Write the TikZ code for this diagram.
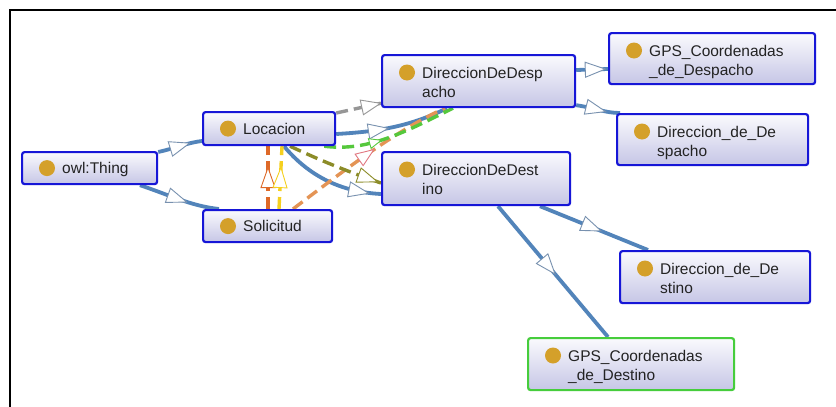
\documentclass[tikz,border=0pt]{standalone}
\usepackage{fontspec}
\setmainfont{Liberation Sans}
\usetikzlibrary{calc,decorations.markings}

\definecolor{boxblue}{RGB}{22,22,215}
\definecolor{boxgreen}{RGB}{70,205,60}
\definecolor{boxtop}{RGB}{250,250,253}
\definecolor{boxbot}{RGB}{198,198,230}
\definecolor{dotcol}{RGB}{212,160,42}
\definecolor{txtcol}{RGB}{35,35,35}
\definecolor{isablue}{RGB}{82,132,186}
\definecolor{triblue}{RGB}{120,145,175}
\definecolor{propgray}{RGB}{150,150,150}
\definecolor{propgreen}{RGB}{85,200,60}
\definecolor{propsand}{RGB}{228,148,85}
\definecolor{propolive}{RGB}{140,140,40}
\definecolor{proporange}{RGB}{222,105,40}
\definecolor{propyellow}{RGB}{245,208,30}
\definecolor{tripink}{RGB}{225,120,130}

\pgfdeclarelayer{backdrop}
\pgfdeclarelayer{background}
\pgfsetlayers{backdrop,background,main}

\tikzset{
  clsbox/.style={draw=boxblue, line width=2.2pt, rounded corners=2.5pt,
    top color=boxtop, bottom color=boxbot, inner sep=0pt},
  clstext/.style={text=txtcol, inner sep=0pt, font=\fontsize{15.5pt}{19pt}\selectfont},
  isa/.style={draw=isablue, line width=3.8pt},
  prop/.style={line width=3.4pt, dash pattern=on 12pt off 6pt},
  tri/.style n args={4}{postaction={decorate, decoration={markings,
    mark=at position #1 with {\draw[solid, line width=0.9pt, draw=#2, fill=white]
      (-#3pt,-#4pt) -- (#3pt,0pt) -- (-#3pt,#4pt) -- cycle;}}}},
}

% class box with a single line of text
\newcommand\oneclass[7][boxblue]{%
  \node[clsbox, draw=#1, minimum width=#5pt, minimum height=#6pt, anchor=north west] (#2) at (#3,#4) {};
  \fill[dotcol] ($(#2.west)+(26,0)$) circle (8pt);
  \node[clstext, anchor=base west] (#2-t) at ($(#2.west)+(41,5.5)$) {#7};
}
% class box with the name wrapped over two lines
\newcommand\twoclass[8][boxblue]{%
  \node[clsbox, draw=#1, minimum width=#5pt, minimum height=#6pt, anchor=north west] (#2) at (#3,#4) {};
  \fill[dotcol] ($(#2.north west)+(26,18.5)$) circle (8pt);
  \node[clstext, anchor=base west] (#2-a) at ($(#2.north west)+(41,24)$) {#7};
  \node[clstext, anchor=base west] (#2-b) at ($(#2.north west)+(41,43)$) {#8};
}

\begin{document}
\begin{tikzpicture}[x=1pt, y=-1pt]
\useasboundingbox (0,0) rectangle (836,407);
\begin{pgfonlayer}{backdrop}
\fill[white] (0,0) rectangle (836,407);
\end{pgfonlayer}

% classes
\oneclass{thing}{21}{151}{135}{32}{owl:Thing}
\oneclass{loc}{202}{111}{132}{33}{Locacion}
\oneclass{sol}{202}{209}{129}{32}{Solicitud}
\twoclass{ddesp}{381}{54}{193}{52}{DireccionDeDesp}{acho}
\twoclass{ddest}{381}{151}{188}{53}{DireccionDeDest}{ino}
\twoclass{gpsdesp}{608}{32}{206}{51}{GPS\_Coordenadas}{\_de\_Despacho}
\twoclass{dirdesp}{616}{113}{191}{51}{Direccion\_de\_De}{spacho}
\twoclass{dirdest}{619}{250}{190}{52}{Direccion\_de\_De}{stino}
\twoclass[boxgreen]{gpsdest}{527}{337}{206}{52}{GPS\_Coordenadas}{\_de\_Destino}

\begin{pgfonlayer}{background}
% subclass links
\draw[isa, tri={0.5}{triblue}{10}{7.5}]
  ($(thing.north east)+(0,1)$) .. controls +(18,-4) and +(-16,2) .. ($(loc.north west)+(0,30)$);
\draw[isa, tri={0.48}{triblue}{10}{7.5}]
  ($(thing.south west)+(119,0)$) .. controls +(30,10) and +(-28,-3) .. ($(sol.north west)+(17,0)$);
\draw[isa, tri={0.37}{triblue}{10}{7.5}]
  ($(loc.north east)+(0,23)$) .. controls +(35,-2) and +(-40,20) .. ($(ddesp.south west)+(66,0)$);
\draw[isa, tri={0.8}{triblue}{10}{7.5}]
  ($(loc.south west)+(82,0)$) .. controls +(25,30) and +(-40,-2) .. ($(ddest.north west)+(0,43)$);
\draw[isa, tri={0.6}{triblue}{10}{7.5}]
  ($(ddesp.north east)+(0,16)$) -- ($(gpsdesp.north west)+(0,37)$);
\draw[isa, tri={0.45}{triblue}{10}{7.5}]
  ($(ddesp.south east)+(0,-3)$) .. controls +(20,3) and +(-15,0) .. ($(dirdesp.north west)+(4,0)$);
\draw[isa, tri={0.48}{triblue}{10}{7.5}]
  ($(ddest.south west)+(159,0)$) -- ($(dirdest.north west)+(29,0)$);
\draw[isa, tri={0.46}{triblue}{10}{7.5}]
  ($(ddest.south west)+(117,0)$) -- ($(gpsdest.north west)+(81,0)$);

% object property links
\draw[prop, propgray, tri={0.78}{propgray}{9.5}{7.5}]
  ($(loc.north east)+(0,2)$) -- ($(ddesp.south west)+(0,-5)$);
\draw[prop, propsand, tri={0.5}{tripink}{9}{7}]
  ($(sol.north west)+(91,0)$) .. controls +(40,-30) and +(-50,22) .. ($(ddesp.south west)+(64,0)$);
\draw[prop, propgreen, tri={0.38}{propgreen}{6}{5}]
  ($(loc.south east)+(-12,0)$) .. controls +(45,6) and +(-45,22) .. ($(ddesp.south west)+(72,0)$);
\draw[prop, propolive, tri={0.86}{propolive}{10}{7.5}]
  ($(loc.south west)+(88,0)$) .. controls +(30,14) and +(-35,-12) .. ($(ddest.north west)+(0,32)$);
\draw[prop, proporange, tri={0.5}{proporange}{10}{7}]
  ($(sol.north west)+(66,0)$) -- ($(loc.south west)+(66,0)$);
\draw[prop, propyellow, tri={0.5}{propyellow}{10}{7}]
  ($(sol.north west)+(77,0)$) -- ($(loc.south west)+(80,0)$);
\end{pgfonlayer}

% frame
\draw[line width=2pt, line cap=rect] (10,407) -- (10,10) -- (836,10);
\end{tikzpicture}
\end{document}
